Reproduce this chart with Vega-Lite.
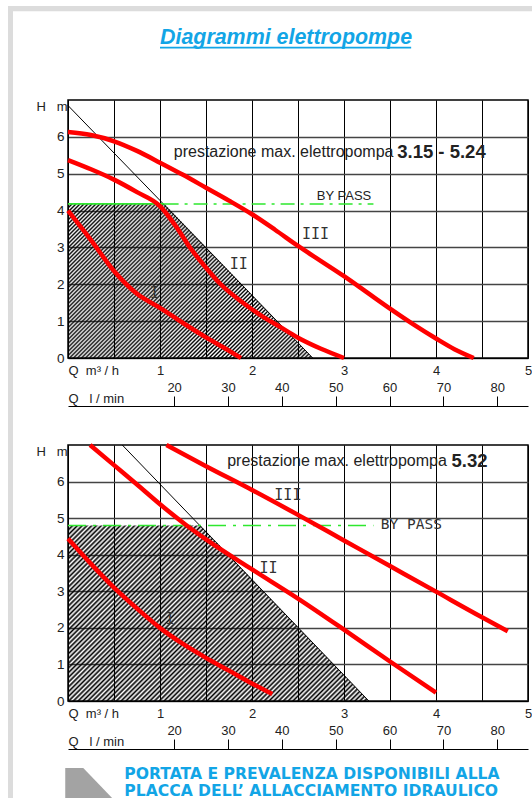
{
"$schema":"https://vega.github.io/schema/vega-lite/v6.json",
"background":"white",
"padding":{"left":7,"top":5,"right":0,"bottom":0},
"autosize":{"type":"pad"},
"config":{"view":{"stroke":"#000","strokeWidth":1.5},"font":"Liberation Sans","text":{"font":"Liberation Sans"}},
"spacing":40,
"bounds":"flush",
"vconcat":[
{
"width":460,"height":258,
"layer":[
{"data":{"values":[{"Q":0,"H":4.18},{"Q":1.05,"H":4.18},{"Q":2.66,"H":0}]},
"mark":{"type":"area","interpolate":"linear","fill":{"gradient":"linear","x1":0,"y1":0,"x2":1.167,"y2":0.734,"stops":[{"offset":0,"color":"#000"},{"offset":0.005,"color":"transparent"},{"offset":0.01,"color":"#000"},{"offset":0.015,"color":"transparent"},{"offset":0.02,"color":"#000"},{"offset":0.025,"color":"transparent"},{"offset":0.03,"color":"#000"},{"offset":0.035,"color":"transparent"},{"offset":0.04,"color":"#000"},{"offset":0.045,"color":"transparent"},{"offset":0.05,"color":"#000"},{"offset":0.055,"color":"transparent"},{"offset":0.06,"color":"#000"},{"offset":0.065,"color":"transparent"},{"offset":0.07,"color":"#000"},{"offset":0.075,"color":"transparent"},{"offset":0.08,"color":"#000"},{"offset":0.085,"color":"transparent"},{"offset":0.09,"color":"#000"},{"offset":0.095,"color":"transparent"},{"offset":0.1,"color":"#000"},{"offset":0.105,"color":"transparent"},{"offset":0.11,"color":"#000"},{"offset":0.115,"color":"transparent"},{"offset":0.12,"color":"#000"},{"offset":0.125,"color":"transparent"},{"offset":0.13,"color":"#000"},{"offset":0.135,"color":"transparent"},{"offset":0.14,"color":"#000"},{"offset":0.145,"color":"transparent"},{"offset":0.15,"color":"#000"},{"offset":0.155,"color":"transparent"},{"offset":0.16,"color":"#000"},{"offset":0.165,"color":"transparent"},{"offset":0.17,"color":"#000"},{"offset":0.175,"color":"transparent"},{"offset":0.18,"color":"#000"},{"offset":0.185,"color":"transparent"},{"offset":0.19,"color":"#000"},{"offset":0.195,"color":"transparent"},{"offset":0.2,"color":"#000"},{"offset":0.205,"color":"transparent"},{"offset":0.21,"color":"#000"},{"offset":0.215,"color":"transparent"},{"offset":0.22,"color":"#000"},{"offset":0.225,"color":"transparent"},{"offset":0.23,"color":"#000"},{"offset":0.235,"color":"transparent"},{"offset":0.24,"color":"#000"},{"offset":0.245,"color":"transparent"},{"offset":0.25,"color":"#000"},{"offset":0.255,"color":"transparent"},{"offset":0.26,"color":"#000"},{"offset":0.265,"color":"transparent"},{"offset":0.27,"color":"#000"},{"offset":0.275,"color":"transparent"},{"offset":0.28,"color":"#000"},{"offset":0.285,"color":"transparent"},{"offset":0.29,"color":"#000"},{"offset":0.295,"color":"transparent"},{"offset":0.3,"color":"#000"},{"offset":0.305,"color":"transparent"},{"offset":0.31,"color":"#000"},{"offset":0.315,"color":"transparent"},{"offset":0.32,"color":"#000"},{"offset":0.325,"color":"transparent"},{"offset":0.33,"color":"#000"},{"offset":0.335,"color":"transparent"},{"offset":0.34,"color":"#000"},{"offset":0.345,"color":"transparent"},{"offset":0.35,"color":"#000"},{"offset":0.355,"color":"transparent"},{"offset":0.36,"color":"#000"},{"offset":0.365,"color":"transparent"},{"offset":0.37,"color":"#000"},{"offset":0.375,"color":"transparent"},{"offset":0.38,"color":"#000"},{"offset":0.385,"color":"transparent"},{"offset":0.39,"color":"#000"},{"offset":0.395,"color":"transparent"},{"offset":0.4,"color":"#000"},{"offset":0.405,"color":"transparent"},{"offset":0.41,"color":"#000"},{"offset":0.415,"color":"transparent"},{"offset":0.42,"color":"#000"},{"offset":0.425,"color":"transparent"},{"offset":0.43,"color":"#000"},{"offset":0.435,"color":"transparent"},{"offset":0.44,"color":"#000"},{"offset":0.445,"color":"transparent"},{"offset":0.45,"color":"#000"},{"offset":0.455,"color":"transparent"},{"offset":0.46,"color":"#000"},{"offset":0.465,"color":"transparent"},{"offset":0.47,"color":"#000"},{"offset":0.475,"color":"transparent"},{"offset":0.48,"color":"#000"},{"offset":0.485,"color":"transparent"},{"offset":0.49,"color":"#000"},{"offset":0.495,"color":"transparent"},{"offset":0.5,"color":"#000"},{"offset":0.505,"color":"transparent"},{"offset":0.51,"color":"#000"},{"offset":0.515,"color":"transparent"},{"offset":0.52,"color":"#000"},{"offset":0.525,"color":"transparent"},{"offset":0.53,"color":"#000"},{"offset":0.535,"color":"transparent"},{"offset":0.54,"color":"#000"},{"offset":0.545,"color":"transparent"},{"offset":0.55,"color":"#000"},{"offset":0.555,"color":"transparent"},{"offset":0.56,"color":"#000"},{"offset":0.565,"color":"transparent"},{"offset":0.57,"color":"#000"},{"offset":0.575,"color":"transparent"},{"offset":0.58,"color":"#000"},{"offset":0.585,"color":"transparent"},{"offset":0.59,"color":"#000"},{"offset":0.595,"color":"transparent"},{"offset":0.6,"color":"#000"},{"offset":0.605,"color":"transparent"},{"offset":0.61,"color":"#000"},{"offset":0.615,"color":"transparent"},{"offset":0.62,"color":"#000"},{"offset":0.625,"color":"transparent"},{"offset":0.63,"color":"#000"},{"offset":0.635,"color":"transparent"},{"offset":0.64,"color":"#000"},{"offset":0.645,"color":"transparent"},{"offset":0.65,"color":"#000"},{"offset":0.655,"color":"transparent"},{"offset":0.66,"color":"#000"},{"offset":0.665,"color":"transparent"},{"offset":0.67,"color":"#000"},{"offset":0.675,"color":"transparent"},{"offset":0.68,"color":"#000"},{"offset":0.685,"color":"transparent"},{"offset":0.69,"color":"#000"},{"offset":0.695,"color":"transparent"},{"offset":0.7,"color":"#000"},{"offset":0.705,"color":"transparent"},{"offset":0.71,"color":"#000"},{"offset":0.715,"color":"transparent"},{"offset":0.72,"color":"#000"},{"offset":0.725,"color":"transparent"},{"offset":0.73,"color":"#000"},{"offset":0.735,"color":"transparent"},{"offset":0.74,"color":"#000"},{"offset":0.745,"color":"transparent"},{"offset":0.75,"color":"#000"},{"offset":0.755,"color":"transparent"},{"offset":0.76,"color":"#000"},{"offset":0.765,"color":"transparent"},{"offset":0.77,"color":"#000"},{"offset":0.775,"color":"transparent"},{"offset":0.78,"color":"#000"},{"offset":0.785,"color":"transparent"},{"offset":0.79,"color":"#000"},{"offset":0.795,"color":"transparent"},{"offset":0.8,"color":"#000"},{"offset":0.805,"color":"transparent"},{"offset":0.81,"color":"#000"},{"offset":0.815,"color":"transparent"},{"offset":0.82,"color":"#000"},{"offset":0.825,"color":"transparent"},{"offset":0.83,"color":"#000"},{"offset":0.835,"color":"transparent"},{"offset":0.84,"color":"#000"},{"offset":0.845,"color":"transparent"},{"offset":0.85,"color":"#000"},{"offset":0.855,"color":"transparent"},{"offset":0.86,"color":"#000"},{"offset":0.865,"color":"transparent"},{"offset":0.87,"color":"#000"},{"offset":0.875,"color":"transparent"},{"offset":0.88,"color":"#000"},{"offset":0.885,"color":"transparent"},{"offset":0.89,"color":"#000"},{"offset":0.895,"color":"transparent"},{"offset":0.9,"color":"#000"},{"offset":0.905,"color":"transparent"},{"offset":0.91,"color":"#000"},{"offset":0.915,"color":"transparent"},{"offset":0.92,"color":"#000"},{"offset":0.925,"color":"transparent"},{"offset":0.93,"color":"#000"},{"offset":0.935,"color":"transparent"},{"offset":0.94,"color":"#000"},{"offset":0.945,"color":"transparent"},{"offset":0.95,"color":"#000"},{"offset":0.955,"color":"transparent"},{"offset":0.96,"color":"#000"},{"offset":0.965,"color":"transparent"},{"offset":0.97,"color":"#000"},{"offset":0.975,"color":"transparent"},{"offset":0.98,"color":"#000"},{"offset":0.985,"color":"transparent"},{"offset":0.99,"color":"#000"},{"offset":0.995,"color":"transparent"},{"offset":1,"color":"#000"}]}},
"encoding":{
"x":{"field":"Q","type":"quantitative","scale":{"domain":[0,5],"nice":false,"zero":false},"axis":{"values":[0,0.5,1,1.5,2,2.5,3,3.5,4,4.5,5],"labelExpr":"datum.value >= 1 && datum.value % 1 == 0 ? format(datum.value,'d') : ''","tickSize":0,"labelPadding":6,"labelFontSize":13,"labelColor":"#222","labelFlush":false,"labelOverlap":false,"grid":true,"gridColor":"#000","gridOpacity":1,"gridWidth":1,"domainColor":"#000","title":"Q\u00a0\u00a0m³\u00a0/\u00a0h","titleX":0,"titleY":12,"titleAlign":"left","titleBaseline":"middle","titleFontWeight":"normal","titleFontSize":13,"titleColor":"#222"}},
"y":{"field":"H","type":"quantitative","scale":{"domain":[0,7],"nice":false,"zero":false},"axis":{"values":[0,1,2,3,4,5,6],"format":"d","tickSize":0,"labelPadding":4,"labelFontSize":13.5,"labelColor":"#222","labelFlush":false,"labelOverlap":false,"grid":true,"gridColor":"#444","gridOpacity":1,"gridWidth":1.5,"domainColor":"#000","title":"H\u00a0\u00a0\u00a0m","titleAngle":0,"titleX":-1,"titleY":6,"titleAlign":"right","titleBaseline":"middle","titleFontWeight":"normal","titleFontSize":13,"titleColor":"#222"}}}},
{"data":{"values":[{"Q":0,"H":6.85},{"Q":2.66,"H":0}]},"mark":{"type":"line","color":"#000","strokeWidth":1},
"encoding":{"x":{"field":"Q","type":"quantitative","scale":{"domain":[0,5],"nice":false,"zero":false}},"y":{"field":"H","type":"quantitative","scale":{"domain":[0,7],"nice":false,"zero":false}}}},
{"data":{"values":[{"Q":0,"H":4.18},{"Q":1.05,"H":4.18}]},"mark":{"type":"line","color":"#2ee82e","strokeWidth":1.8},
"encoding":{"x":{"field":"Q","type":"quantitative","scale":{"domain":[0,5],"nice":false,"zero":false}},"y":{"field":"H","type":"quantitative","scale":{"domain":[0,7],"nice":false,"zero":false}}}},
{"data":{"values":[{"Q":1.05,"H":4.18},{"Q":3.32,"H":4.18}]},"mark":{"type":"line","color":"#2ee82e","strokeWidth":1.6,"strokeDash":[14,6,3,6]},
"encoding":{"x":{"field":"Q","type":"quantitative","scale":{"domain":[0,5],"nice":false,"zero":false}},"y":{"field":"H","type":"quantitative","scale":{"domain":[0,7],"nice":false,"zero":false}}}},
{"data":{"values":[
{"c":"III","Q":0,"H":6.13},{"c":"III","Q":0.25,"H":6.05},{"c":"III","Q":0.5,"H":5.88},{"c":"III","Q":0.75,"H":5.62},{"c":"III","Q":1,"H":5.3},{"c":"III","Q":1.25,"H":4.97},{"c":"III","Q":1.5,"H":4.62},{"c":"III","Q":1.75,"H":4.27},{"c":"III","Q":2,"H":3.9},{"c":"III","Q":2.25,"H":3.48},{"c":"III","Q":2.5,"H":3.04},{"c":"III","Q":2.75,"H":2.63},{"c":"III","Q":3,"H":2.22},{"c":"III","Q":3.25,"H":1.78},{"c":"III","Q":3.5,"H":1.34},{"c":"III","Q":3.75,"H":0.92},{"c":"III","Q":4,"H":0.53},{"c":"III","Q":4.2,"H":0.24},{"c":"III","Q":4.41,"H":0},
{"c":"II","Q":0,"H":5.37},{"c":"II","Q":0.25,"H":5.12},{"c":"II","Q":0.5,"H":4.84},{"c":"II","Q":0.75,"H":4.5},{"c":"II","Q":1,"H":4.12},{"c":"II","Q":1.16,"H":3.62},{"c":"II","Q":1.34,"H":2.95},{"c":"II","Q":1.5,"H":2.45},{"c":"II","Q":1.66,"H":2.0},{"c":"II","Q":1.88,"H":1.54},{"c":"II","Q":2.1,"H":1.15},{"c":"II","Q":2.3,"H":0.85},{"c":"II","Q":2.5,"H":0.55},{"c":"II","Q":2.75,"H":0.25},{"c":"II","Q":3,"H":0},
{"c":"I","Q":0,"H":4.0},{"c":"I","Q":0.25,"H":3.2},{"c":"I","Q":0.5,"H":2.36},{"c":"I","Q":0.75,"H":1.74},{"c":"I","Q":1,"H":1.36},{"c":"I","Q":1.25,"H":0.95},{"c":"I","Q":1.5,"H":0.56},{"c":"I","Q":1.7,"H":0.27},{"c":"I","Q":1.88,"H":0}
]},"mark":{"type":"line","color":"#ff0000","strokeWidth":4.5,"interpolate":"monotone"},
"encoding":{"x":{"field":"Q","type":"quantitative","scale":{"domain":[0,5],"nice":false,"zero":false}},"y":{"field":"H","type":"quantitative","scale":{"domain":[0,7],"nice":false,"zero":false}},"detail":{"field":"c","type":"nominal"}}},
{"data":{"values":[{"Q":0.94,"H":1.77,"t":"I"},{"Q":1.855,"H":2.54,"t":"II"},{"Q":2.69,"H":3.36,"t":"III"}]},"mark":{"type":"text","font":"DejaVu Sans Mono","fontSize":15,"color":"#333","align":"center","baseline":"middle"},
"encoding":{"x":{"field":"Q","type":"quantitative","scale":{"domain":[0,5],"nice":false,"zero":false}},"y":{"field":"H","type":"quantitative","scale":{"domain":[0,7],"nice":false,"zero":false}},"text":{"field":"t"}}},
{"data":{"values":[{"Q":1.15,"H":5.58,"t":"prestazione max. elettropompa"}]},"mark":{"type":"text","fontSize":16,"color":"#222","align":"left","baseline":"middle"},
"encoding":{"x":{"field":"Q","type":"quantitative","scale":{"domain":[0,5],"nice":false,"zero":false}},"y":{"field":"H","type":"quantitative","scale":{"domain":[0,7],"nice":false,"zero":false}},"text":{"field":"t"}}},
{"data":{"values":[{"Q":4.54,"H":5.58,"t":"3.15 - 5.24"}]},"mark":{"type":"text","fontSize":18.5,"fontWeight":"bold","color":"#222","align":"right","baseline":"middle"},
"encoding":{"x":{"field":"Q","type":"quantitative","scale":{"domain":[0,5],"nice":false,"zero":false}},"y":{"field":"H","type":"quantitative","scale":{"domain":[0,7],"nice":false,"zero":false}},"text":{"field":"t"}}},
{"data":{"values":[{"Q":3.0,"H":4.39,"t":"BY PASS"}]},"mark":{"type":"text","fontSize":13,"color":"#222","align":"center","baseline":"middle"},
"encoding":{"x":{"field":"Q","type":"quantitative","scale":{"domain":[0,5],"nice":false,"zero":false}},"y":{"field":"H","type":"quantitative","scale":{"domain":[0,7],"nice":false,"zero":false}},"text":{"field":"t"}}},
{"data":{"values":[{"Q":2.37,"H":8.51,"t":"Diagrammi elettropompe"}]},"mark":{"type":"text","fontSize":21.4,"fontWeight":"bold","fontStyle":"italic","color":"#12a5e6","align":"center","baseline":"alphabetic"},
"encoding":{"x":{"field":"Q","type":"quantitative","scale":{"domain":[0,5],"nice":false,"zero":false}},"y":{"field":"H","type":"quantitative","scale":{"domain":[0,7],"nice":false,"zero":false}},"text":{"field":"t"}}},
{"data":{"values":[{}]},"mark":{"type":"rule","color":"#12a5e6","strokeWidth":1.6},
"encoding":{"x":{"datum":1.0,"type":"quantitative","scale":{"domain":[0,5],"nice":false,"zero":false}},"x2":{"datum":3.73},"y":{"datum":8.42,"type":"quantitative","scale":{"domain":[0,7],"nice":false,"zero":false}}}},
{"data":{"values":[{}]},"mark":{"type":"rect","color":"#dcdcdc"},
"encoding":{"x":{"datum":-0.652,"type":"quantitative","scale":{"domain":[0,5],"nice":false,"zero":false}},"x2":{"datum":5.06},"y":{"datum":9.55,"type":"quantitative","scale":{"domain":[0,7],"nice":false,"zero":false}},"y2":{"datum":9.41}}},
{"data":{"values":[{}]},"mark":{"type":"rect","color":"#dcdcdc"},
"encoding":{"x":{"datum":-0.652,"type":"quantitative","scale":{"domain":[0,5],"nice":false,"zero":false}},"x2":{"datum":-0.598},"y":{"datum":9.55,"type":"quantitative","scale":{"domain":[0,7],"nice":false,"zero":false}},"y2":{"datum":-11.97}}}
]
},
{"width":460,"height":7,"view":{"stroke":null},
"data":{"values":[{"L":20},{"L":30},{"L":40},{"L":50},{"L":60},{"L":70},{"L":80}]},"mark":{"type":"point","opacity":0},
"encoding":{"x":{"field":"L","type":"quantitative","scale":{"domain":[0.3,85.7],"nice":false,"zero":false},"axis":{"orient":"top","offset":-8,"values":[20,30,40,50,60,70,80],"format":"d","tickSize":10,"tickColor":"#000","tickWidth":1,"domainColor":"#000","domainWidth":1,"labelPadding":2,"labelFontSize":13,"labelColor":"#222","labelFlush":false,"grid":false,"title":"Q\u00a0\u00a0\u00a0l\u00a0/\u00a0min","titleX":0,"titleY":-8,"titleAlign":"left","titleBaseline":"middle","titleFontWeight":"normal","titleFontSize":13,"titleColor":"#222"}}}},
{
"width":460,"height":256,
"layer":[
{"data":{"values":[{"Q":0,"H":4.8},{"Q":1.44,"H":4.8},{"Q":3.27,"H":0}]},
"mark":{"type":"area","interpolate":"linear","fill":{"gradient":"linear","x1":0,"y1":0,"x2":1.182,"y2":0.691,"stops":[{"offset":0,"color":"#000"},{"offset":0.005,"color":"transparent"},{"offset":0.01,"color":"#000"},{"offset":0.015,"color":"transparent"},{"offset":0.02,"color":"#000"},{"offset":0.025,"color":"transparent"},{"offset":0.03,"color":"#000"},{"offset":0.035,"color":"transparent"},{"offset":0.04,"color":"#000"},{"offset":0.045,"color":"transparent"},{"offset":0.05,"color":"#000"},{"offset":0.055,"color":"transparent"},{"offset":0.06,"color":"#000"},{"offset":0.065,"color":"transparent"},{"offset":0.07,"color":"#000"},{"offset":0.075,"color":"transparent"},{"offset":0.08,"color":"#000"},{"offset":0.085,"color":"transparent"},{"offset":0.09,"color":"#000"},{"offset":0.095,"color":"transparent"},{"offset":0.1,"color":"#000"},{"offset":0.105,"color":"transparent"},{"offset":0.11,"color":"#000"},{"offset":0.115,"color":"transparent"},{"offset":0.12,"color":"#000"},{"offset":0.125,"color":"transparent"},{"offset":0.13,"color":"#000"},{"offset":0.135,"color":"transparent"},{"offset":0.14,"color":"#000"},{"offset":0.145,"color":"transparent"},{"offset":0.15,"color":"#000"},{"offset":0.155,"color":"transparent"},{"offset":0.16,"color":"#000"},{"offset":0.165,"color":"transparent"},{"offset":0.17,"color":"#000"},{"offset":0.175,"color":"transparent"},{"offset":0.18,"color":"#000"},{"offset":0.185,"color":"transparent"},{"offset":0.19,"color":"#000"},{"offset":0.195,"color":"transparent"},{"offset":0.2,"color":"#000"},{"offset":0.205,"color":"transparent"},{"offset":0.21,"color":"#000"},{"offset":0.215,"color":"transparent"},{"offset":0.22,"color":"#000"},{"offset":0.225,"color":"transparent"},{"offset":0.23,"color":"#000"},{"offset":0.235,"color":"transparent"},{"offset":0.24,"color":"#000"},{"offset":0.245,"color":"transparent"},{"offset":0.25,"color":"#000"},{"offset":0.255,"color":"transparent"},{"offset":0.26,"color":"#000"},{"offset":0.265,"color":"transparent"},{"offset":0.27,"color":"#000"},{"offset":0.275,"color":"transparent"},{"offset":0.28,"color":"#000"},{"offset":0.285,"color":"transparent"},{"offset":0.29,"color":"#000"},{"offset":0.295,"color":"transparent"},{"offset":0.3,"color":"#000"},{"offset":0.305,"color":"transparent"},{"offset":0.31,"color":"#000"},{"offset":0.315,"color":"transparent"},{"offset":0.32,"color":"#000"},{"offset":0.325,"color":"transparent"},{"offset":0.33,"color":"#000"},{"offset":0.335,"color":"transparent"},{"offset":0.34,"color":"#000"},{"offset":0.345,"color":"transparent"},{"offset":0.35,"color":"#000"},{"offset":0.355,"color":"transparent"},{"offset":0.36,"color":"#000"},{"offset":0.365,"color":"transparent"},{"offset":0.37,"color":"#000"},{"offset":0.375,"color":"transparent"},{"offset":0.38,"color":"#000"},{"offset":0.385,"color":"transparent"},{"offset":0.39,"color":"#000"},{"offset":0.395,"color":"transparent"},{"offset":0.4,"color":"#000"},{"offset":0.405,"color":"transparent"},{"offset":0.41,"color":"#000"},{"offset":0.415,"color":"transparent"},{"offset":0.42,"color":"#000"},{"offset":0.425,"color":"transparent"},{"offset":0.43,"color":"#000"},{"offset":0.435,"color":"transparent"},{"offset":0.44,"color":"#000"},{"offset":0.445,"color":"transparent"},{"offset":0.45,"color":"#000"},{"offset":0.455,"color":"transparent"},{"offset":0.46,"color":"#000"},{"offset":0.465,"color":"transparent"},{"offset":0.47,"color":"#000"},{"offset":0.475,"color":"transparent"},{"offset":0.48,"color":"#000"},{"offset":0.485,"color":"transparent"},{"offset":0.49,"color":"#000"},{"offset":0.495,"color":"transparent"},{"offset":0.5,"color":"#000"},{"offset":0.505,"color":"transparent"},{"offset":0.51,"color":"#000"},{"offset":0.515,"color":"transparent"},{"offset":0.52,"color":"#000"},{"offset":0.525,"color":"transparent"},{"offset":0.53,"color":"#000"},{"offset":0.535,"color":"transparent"},{"offset":0.54,"color":"#000"},{"offset":0.545,"color":"transparent"},{"offset":0.55,"color":"#000"},{"offset":0.555,"color":"transparent"},{"offset":0.56,"color":"#000"},{"offset":0.565,"color":"transparent"},{"offset":0.57,"color":"#000"},{"offset":0.575,"color":"transparent"},{"offset":0.58,"color":"#000"},{"offset":0.585,"color":"transparent"},{"offset":0.59,"color":"#000"},{"offset":0.595,"color":"transparent"},{"offset":0.6,"color":"#000"},{"offset":0.605,"color":"transparent"},{"offset":0.61,"color":"#000"},{"offset":0.615,"color":"transparent"},{"offset":0.62,"color":"#000"},{"offset":0.625,"color":"transparent"},{"offset":0.63,"color":"#000"},{"offset":0.635,"color":"transparent"},{"offset":0.64,"color":"#000"},{"offset":0.645,"color":"transparent"},{"offset":0.65,"color":"#000"},{"offset":0.655,"color":"transparent"},{"offset":0.66,"color":"#000"},{"offset":0.665,"color":"transparent"},{"offset":0.67,"color":"#000"},{"offset":0.675,"color":"transparent"},{"offset":0.68,"color":"#000"},{"offset":0.685,"color":"transparent"},{"offset":0.69,"color":"#000"},{"offset":0.695,"color":"transparent"},{"offset":0.7,"color":"#000"},{"offset":0.705,"color":"transparent"},{"offset":0.71,"color":"#000"},{"offset":0.715,"color":"transparent"},{"offset":0.72,"color":"#000"},{"offset":0.725,"color":"transparent"},{"offset":0.73,"color":"#000"},{"offset":0.735,"color":"transparent"},{"offset":0.74,"color":"#000"},{"offset":0.745,"color":"transparent"},{"offset":0.75,"color":"#000"},{"offset":0.755,"color":"transparent"},{"offset":0.76,"color":"#000"},{"offset":0.765,"color":"transparent"},{"offset":0.77,"color":"#000"},{"offset":0.775,"color":"transparent"},{"offset":0.78,"color":"#000"},{"offset":0.785,"color":"transparent"},{"offset":0.79,"color":"#000"},{"offset":0.795,"color":"transparent"},{"offset":0.8,"color":"#000"},{"offset":0.805,"color":"transparent"},{"offset":0.81,"color":"#000"},{"offset":0.815,"color":"transparent"},{"offset":0.82,"color":"#000"},{"offset":0.825,"color":"transparent"},{"offset":0.83,"color":"#000"},{"offset":0.835,"color":"transparent"},{"offset":0.84,"color":"#000"},{"offset":0.845,"color":"transparent"},{"offset":0.85,"color":"#000"},{"offset":0.855,"color":"transparent"},{"offset":0.86,"color":"#000"},{"offset":0.865,"color":"transparent"},{"offset":0.87,"color":"#000"},{"offset":0.875,"color":"transparent"},{"offset":0.88,"color":"#000"},{"offset":0.885,"color":"transparent"},{"offset":0.89,"color":"#000"},{"offset":0.895,"color":"transparent"},{"offset":0.9,"color":"#000"},{"offset":0.905,"color":"transparent"},{"offset":0.91,"color":"#000"},{"offset":0.915,"color":"transparent"},{"offset":0.92,"color":"#000"},{"offset":0.925,"color":"transparent"},{"offset":0.93,"color":"#000"},{"offset":0.935,"color":"transparent"},{"offset":0.94,"color":"#000"},{"offset":0.945,"color":"transparent"},{"offset":0.95,"color":"#000"},{"offset":0.955,"color":"transparent"},{"offset":0.96,"color":"#000"},{"offset":0.965,"color":"transparent"},{"offset":0.97,"color":"#000"},{"offset":0.975,"color":"transparent"},{"offset":0.98,"color":"#000"},{"offset":0.985,"color":"transparent"},{"offset":0.99,"color":"#000"},{"offset":0.995,"color":"transparent"},{"offset":1,"color":"#000"}]}},
"encoding":{
"x":{"field":"Q","type":"quantitative","scale":{"domain":[0,5],"nice":false,"zero":false},"axis":{"values":[0,0.5,1,1.5,2,2.5,3,3.5,4,4.5,5],"labelExpr":"datum.value >= 1 && datum.value % 1 == 0 ? format(datum.value,'d') : ''","tickSize":0,"labelPadding":6,"labelFontSize":13,"labelColor":"#222","labelFlush":false,"labelOverlap":false,"grid":true,"gridColor":"#000","gridOpacity":1,"gridWidth":1,"domainColor":"#000","title":"Q\u00a0\u00a0m³\u00a0/\u00a0h","titleX":0,"titleY":12,"titleAlign":"left","titleBaseline":"middle","titleFontWeight":"normal","titleFontSize":13,"titleColor":"#222"}},
"y":{"field":"H","type":"quantitative","scale":{"domain":[0,7],"nice":false,"zero":false},"axis":{"values":[0,1,2,3,4,5,6],"format":"d","tickSize":0,"labelPadding":4,"labelFontSize":13.5,"labelColor":"#222","labelFlush":false,"labelOverlap":false,"grid":true,"gridColor":"#444","gridOpacity":1,"gridWidth":1.5,"domainColor":"#000","title":"H\u00a0\u00a0\u00a0m","titleAngle":0,"titleX":-1,"titleY":6,"titleAlign":"right","titleBaseline":"middle","titleFontWeight":"normal","titleFontSize":13,"titleColor":"#222"}}}},
{"data":{"values":[{"Q":0.59,"H":7.0},{"Q":3.27,"H":0}]},"mark":{"type":"line","color":"#000","strokeWidth":1},
"encoding":{"x":{"field":"Q","type":"quantitative","scale":{"domain":[0,5],"nice":false,"zero":false}},"y":{"field":"H","type":"quantitative","scale":{"domain":[0,7],"nice":false,"zero":false}}}},
{"data":{"values":[{"Q":0,"H":4.8},{"Q":3.32,"H":4.8}]},"mark":{"type":"line","color":"#2ee82e","strokeWidth":1.6,"strokeDash":[18,7,3,7]},
"encoding":{"x":{"field":"Q","type":"quantitative","scale":{"domain":[0,5],"nice":false,"zero":false}},"y":{"field":"H","type":"quantitative","scale":{"domain":[0,7],"nice":false,"zero":false}}}},
{"data":{"values":[
{"c":"III","Q":1.07,"H":7.0},{"c":"III","Q":1.5,"H":6.42},{"c":"III","Q":2,"H":5.77},{"c":"III","Q":2.5,"H":5.09},{"c":"III","Q":3,"H":4.39},{"c":"III","Q":3.5,"H":3.69},{"c":"III","Q":4,"H":2.99},{"c":"III","Q":4.5,"H":2.29},{"c":"III","Q":4.78,"H":1.91},
{"c":"II","Q":0.24,"H":7.0},{"c":"II","Q":0.5,"H":6.45},{"c":"II","Q":0.75,"H":5.92},{"c":"II","Q":1,"H":5.38},{"c":"II","Q":1.29,"H":4.8},{"c":"II","Q":1.5,"H":4.42},{"c":"II","Q":2,"H":3.6},{"c":"II","Q":2.5,"H":2.8},{"c":"II","Q":3,"H":1.95},{"c":"II","Q":3.5,"H":1.08},{"c":"II","Q":4,"H":0.23},
{"c":"I","Q":0,"H":4.44},{"c":"I","Q":0.25,"H":3.75},{"c":"I","Q":0.5,"H":3.1},{"c":"I","Q":0.75,"H":2.53},{"c":"I","Q":1,"H":2.0},{"c":"I","Q":1.25,"H":1.56},{"c":"I","Q":1.5,"H":1.18},{"c":"I","Q":1.75,"H":0.83},{"c":"I","Q":2,"H":0.48},{"c":"I","Q":2.22,"H":0.19}
]},"mark":{"type":"line","color":"#ff0000","strokeWidth":4.5,"interpolate":"monotone"},
"encoding":{"x":{"field":"Q","type":"quantitative","scale":{"domain":[0,5],"nice":false,"zero":false}},"y":{"field":"H","type":"quantitative","scale":{"domain":[0,7],"nice":false,"zero":false}},"detail":{"field":"c","type":"nominal"}}},
{"data":{"values":[{"Q":1.11,"H":2.23,"t":"I"},{"Q":2.18,"H":3.64,"t":"II"},{"Q":2.39,"H":5.63,"t":"III"}]},"mark":{"type":"text","font":"DejaVu Sans Mono","fontSize":15,"color":"#333","align":"center","baseline":"middle"},
"encoding":{"x":{"field":"Q","type":"quantitative","scale":{"domain":[0,5],"nice":false,"zero":false}},"y":{"field":"H","type":"quantitative","scale":{"domain":[0,7],"nice":false,"zero":false}},"text":{"field":"t"}}},
{"data":{"values":[{"Q":3.4,"H":4.8,"t":"BY PASS"}]},"mark":{"type":"text","font":"DejaVu Sans Mono","fontSize":14.5,"color":"#333","align":"left","baseline":"middle"},
"encoding":{"x":{"field":"Q","type":"quantitative","scale":{"domain":[0,5],"nice":false,"zero":false}},"y":{"field":"H","type":"quantitative","scale":{"domain":[0,7],"nice":false,"zero":false}},"text":{"field":"t"}}},
{"data":{"values":[{"Q":1.73,"H":6.56,"t":"prestazione max. elettropompa"}]},"mark":{"type":"text","fontSize":16,"color":"#222","align":"left","baseline":"middle"},
"encoding":{"x":{"field":"Q","type":"quantitative","scale":{"domain":[0,5],"nice":false,"zero":false}},"y":{"field":"H","type":"quantitative","scale":{"domain":[0,7],"nice":false,"zero":false}},"text":{"field":"t"}}},
{"data":{"values":[{"Q":4.56,"H":6.56,"t":"5.32"}]},"mark":{"type":"text","fontSize":18.5,"fontWeight":"bold","color":"#222","align":"right","baseline":"middle"},
"encoding":{"x":{"field":"Q","type":"quantitative","scale":{"domain":[0,5],"nice":false,"zero":false}},"y":{"field":"H","type":"quantitative","scale":{"domain":[0,7],"nice":false,"zero":false}},"text":{"field":"t"}}},
{"data":{"values":[{"Q":0.612,"H":-2.0,"t":"PORTATA E PREVALENZA DISPONIBILI ALLA"},{"Q":0.612,"H":-2.46,"t":"PLACCA DELL’ ALLACCIAMENTO IDRAULICO"}]},"mark":{"type":"text","font":"DejaVu Sans","fontSize":15.6,"fontWeight":"bold","color":"#12a5e6","align":"left","baseline":"middle"},
"encoding":{"x":{"field":"Q","type":"quantitative","scale":{"domain":[0,5],"nice":false,"zero":false}},"y":{"field":"H","type":"quantitative","scale":{"domain":[0,7],"nice":false,"zero":false}},"text":{"field":"t"}}},
{"data":{"values":[{"Q":-0.03,"H":-1.83},{"Q":0.166,"H":-1.83},{"Q":0.49,"H":-2.68}]},"mark":{"type":"area","color":"#a3a3a3","interpolate":"linear"},
"encoding":{"x":{"field":"Q","type":"quantitative","scale":{"domain":[0,5],"nice":false,"zero":false}},"y":{"field":"H","type":"quantitative","scale":{"domain":[0,7],"nice":false,"zero":false}},"y2":{"datum":-2.68}}}
]
},
{"width":460,"height":7,"view":{"stroke":null},
"data":{"values":[{"L":20},{"L":30},{"L":40},{"L":50},{"L":60},{"L":70},{"L":80}]},"mark":{"type":"point","opacity":0},
"encoding":{"x":{"field":"L","type":"quantitative","scale":{"domain":[0.3,85.7],"nice":false,"zero":false},"axis":{"orient":"top","offset":-8,"values":[20,30,40,50,60,70,80],"format":"d","tickSize":10,"tickColor":"#000","tickWidth":1,"domainColor":"#000","domainWidth":1,"labelPadding":2,"labelFontSize":13,"labelColor":"#222","labelFlush":false,"grid":false,"title":"Q\u00a0\u00a0\u00a0l\u00a0/\u00a0min","titleX":0,"titleY":-8,"titleAlign":"left","titleBaseline":"middle","titleFontWeight":"normal","titleFontSize":13,"titleColor":"#222"}}}}
]
}
